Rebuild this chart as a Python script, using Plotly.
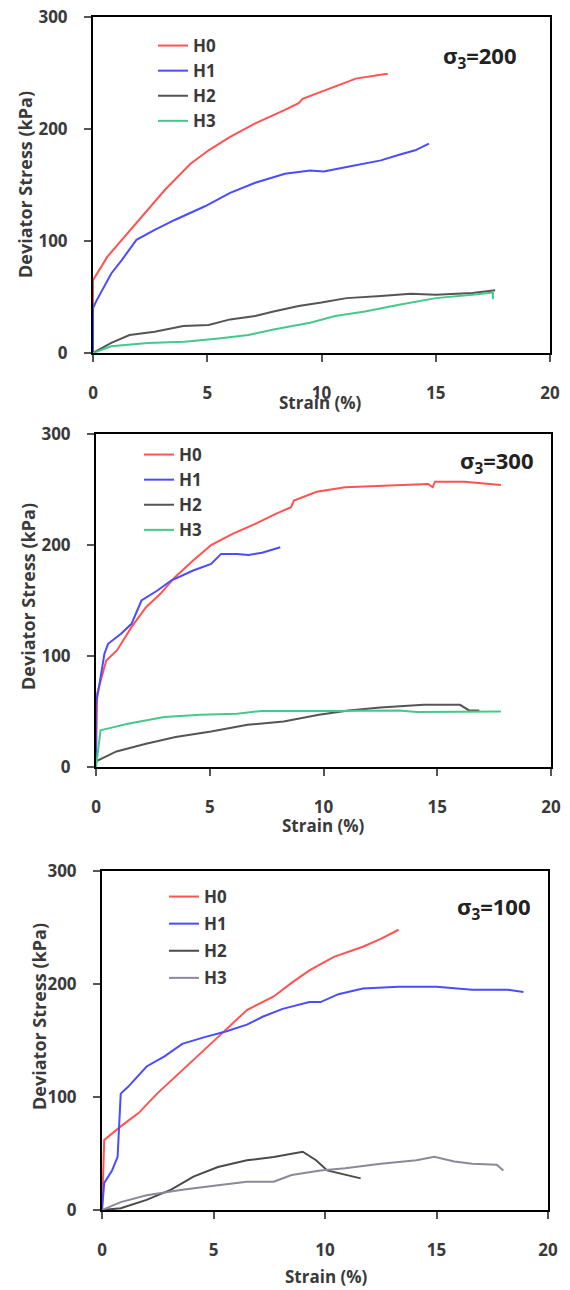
import plotly.graph_objects as go

# ---------------- DATA ----------------
series_names = ["H0", "H1", "H2", "H3"]
panel_labels = ["σ<sub>3</sub>=200", "σ<sub>3</sub>=300", "σ<sub>3</sub>=100"]
x_ticks = [0, 5, 10, 15, 20]
y_ticks = [0, 100, 200, 300]

# sigma3 = 200
s200_h0_x = [0, 0, 0.63, 1.26, 2.37, 3.16, 4.27, 5.06, 6.0, 7.1, 8.4, 9.0, 9.17, 10.3, 11.5, 12.8, 12.9]
s200_h0_y = [0, 65, 86, 101, 128, 146, 169, 181, 193, 205, 217, 223, 227, 236, 245, 249, 249]
s200_h1_x = [0, 0, 0.16, 0.8, 1.26, 1.9, 2.7, 3.6, 4.9, 6.0, 7.1, 8.4, 9.5, 10.1, 11.1, 12.6, 13.4, 14.1, 14.7]
s200_h1_y = [0, 40, 47, 71, 83, 101, 110, 119, 131, 143, 152, 160, 163, 162, 166, 172, 177, 181, 187]
s200_h2_x = [0, 0.8, 1.6, 2.7, 3.95, 5.06, 6.0, 7.1, 7.9, 9.0, 10.0, 11.1, 12.6, 13.9, 15.0, 16.6, 17.6]
s200_h2_y = [0, 9, 16, 19, 24, 25, 30, 33, 37, 42, 45, 49, 51, 53, 52, 53.5, 56]
s200_h3_x = [0, 0.8, 2.4, 4.0, 5.5, 6.8, 7.9, 9.5, 10.6, 11.9, 13.4, 15.0, 16.6, 17.5, 17.5]
s200_h3_y = [0, 6, 9, 10, 13, 16, 21, 27, 33, 37, 43, 49, 52, 54, 48]

# sigma3 = 300
s300_h0_x = [0, 0.05, 0.45, 0.92, 1.56, 2.2, 2.83, 3.47, 4.27, 5.06, 6.0, 7.0, 7.9, 8.57, 8.7, 9.7, 10.95, 13.3, 14.6, 14.8, 14.9, 16.2, 17.8]
s300_h0_y = [0, 66, 96, 105, 126, 144, 156, 171, 186, 200, 210, 219, 228, 234, 240, 248, 252, 254, 255, 252, 257, 257, 254]
s300_h1_x = [0, 0, 0.13, 0.37, 0.53, 1.1, 1.56, 2.0, 2.7, 3.3, 4.27, 5.06, 5.5, 6.2, 6.7, 7.3, 8.1]
s300_h1_y = [0, 57, 72, 102, 111, 120, 129, 150, 159, 168, 177, 183, 192, 192, 191, 193, 198]
s300_h2_x = [0, 0, 0.9, 2.2, 3.5, 5.06, 6.66, 8.25, 9.8, 11.1, 12.5, 13.8, 14.4, 16.0, 16.4, 16.85]
s300_h2_y = [0, 5, 14, 21, 27, 32, 38, 41, 47, 51, 53.5, 55.5, 56, 56, 51, 51]
s300_h3_x = [0, 0.2, 0.6, 1.4, 3.0, 4.6, 6.2, 7.3, 10.1, 13.3, 14.1, 17.8]
s300_h3_y = [0, 33, 35, 39, 45, 47, 48, 50.5, 50.5, 51, 49.5, 50]

# sigma3 = 100
s100_h0_x = [0, 0.1, 0.84, 1.65, 2.47, 3.6, 4.4, 5.2, 6.5, 7.7, 8.5, 9.3, 10.4, 11.7, 12.5, 13.3]
s100_h0_y = [0, 62, 74, 86, 103, 124, 139, 153, 177, 189, 201, 212, 224, 233, 240, 248]
s100_h1_x = [0, 0.1, 0.45, 0.7, 0.84, 1.17, 2.0, 2.8, 3.6, 4.6, 5.55, 6.5, 7.2, 8.1, 9.3, 9.8, 10.6, 11.7, 13.3, 15.0, 16.6, 18.2, 18.9]
s100_h1_y = [0, 24, 35, 47, 103, 109, 127, 136, 147, 153, 158, 164, 171, 178, 184, 184, 191, 196, 197.6, 197.6, 195, 195, 193]
s100_h2_x = [0, 0.84, 2.0, 3.1, 4.1, 5.2, 6.5, 7.7, 9.0, 9.6, 10.1, 10.9, 11.6]
s100_h2_y = [0, 1.5, 9, 18, 29.5, 38, 44, 47, 51.6, 44, 35, 31, 28]
s100_h3_x = [0, 0.84, 2.0, 3.6, 5.2, 6.5, 7.7, 8.5, 9.8, 10.9, 12.5, 14.1, 14.9, 15.8, 16.6, 17.7, 18.0]
s100_h3_y = [0, 7, 13, 18, 22, 25, 25, 31, 35, 37, 41, 44, 47, 43, 41, 40, 35]

panels = [
    [(s200_h0_x, s200_h0_y), (s200_h1_x, s200_h1_y), (s200_h2_x, s200_h2_y), (s200_h3_x, s200_h3_y)],
    [(s300_h0_x, s300_h0_y), (s300_h1_x, s300_h1_y), (s300_h2_x, s300_h2_y), (s300_h3_x, s300_h3_y)],
    [(s100_h0_x, s100_h0_y), (s100_h1_x, s100_h1_y), (s100_h2_x, s100_h2_y), (s100_h3_x, s100_h3_y)],
]

# ---------------- STYLE ----------------
W, H = 570, 1290
colors = [
    ["#ff5252", "#4b4bff", "#555555", "#44c98a"],
    ["#ff5252", "#4b4bff", "#555555", "#44c98a"],
    ["#ff5252", "#4b4bff", "#4a4a4a", "#8d8799"],
]
# plot box pixel extents (left, right, top, bottom)
boxes = [(93, 550, 17, 353), (96, 551, 434, 767), (102, 548, 871, 1210)]
legend_pos = [(153, 28), (139, 437), (164, 879)]
legend_gap = [0, 0, 2]
label_pos = [(480, 57), (497, 462), (494, 908)]
xtitle_pos = [(320, 402), (323, 825), (326, 1276)]
ytitle_pos = [(25, 185), (28, 597), (39, 1017)]

FONT = "Open Sans"
TXT = "#3a3a3a"

fig = go.Figure()
layout = dict(
    width=W, height=H, margin=dict(l=0, r=0, t=0, b=0),
    paper_bgcolor="white", plot_bgcolor="white",
    font=dict(family=FONT, color=TXT),
    annotations=[],
)

for p in range(3):
    sfx = "" if p == 0 else str(p + 1)
    xa, ya = "x" + sfx, "y" + sfx
    lg = "legend" + sfx
    for i, (xs, ys) in enumerate(panels[p]):
        fig.add_trace(go.Scatter(
            x=xs, y=ys, mode="lines", name=series_names[i],
            line=dict(color=colors[p][i], width=2),
            xaxis=xa, yaxis=ya, legend=lg, legendgroup=f"p{p}g{i}",
        ))
    l, r, t, b = boxes[p]
    common = dict(
        showline=True, linecolor="black", linewidth=2, mirror=True,
        showgrid=False, zeroline=False, ticks="outside", ticklen=7,
        tickcolor="#555555", tickwidth=1.5, automargin=False,
        tickfont=dict(family=FONT, size=17, color=TXT, weight="bold"),
    )
    layout["xaxis" + sfx] = dict(
        common, domain=[l / W, r / W], range=[0, 20], tickvals=x_ticks,
        anchor=ya, ticklabelstandoff=17, fixedrange=True,
    )
    layout["yaxis" + sfx] = dict(
        common, domain=[1 - b / H, 1 - t / H], range=[0, 300], tickvals=y_ticks,
        anchor=xa, ticklabelstandoff=13, fixedrange=True,
    )
    lx, ly = legend_pos[p]
    layout[lg] = dict(
        x=lx / W, y=1 - ly / H, xanchor="left", yanchor="top",
        bgcolor="rgba(0,0,0,0)", borderwidth=0, tracegroupgap=legend_gap[p],
        font=dict(family=FONT, size=17, color=TXT, weight="bold"),
    )
    ann = dict(xref="paper", yref="paper", showarrow=False,
               xanchor="center", yanchor="middle")
    ax, ay = label_pos[p]
    layout["annotations"].append(dict(
        ann, text=panel_labels[p], x=ax / W, y=1 - ay / H,
        font=dict(family=FONT, size=22, color="#222222", weight="bold"),
    ))
    tx, ty = xtitle_pos[p]
    layout["annotations"].append(dict(
        ann, text="Strain (%)", x=tx / W, y=1 - ty / H,
        font=dict(family=FONT, size=17, color=TXT, weight="bold"),
    ))
    vx, vy = ytitle_pos[p]
    layout["annotations"].append(dict(
        ann, text="Deviator Stress (kPa)", x=vx / W, y=1 - vy / H, textangle=-90,
        font=dict(family=FONT, size=18, color=TXT, weight="bold"),
    ))

fig.update_layout(**layout)
fig.write_html(
    "out.html",
    config={"displayModeBar": False},
    post_script="document.body.style.margin='0';document.body.style.overflow='hidden';",
)
